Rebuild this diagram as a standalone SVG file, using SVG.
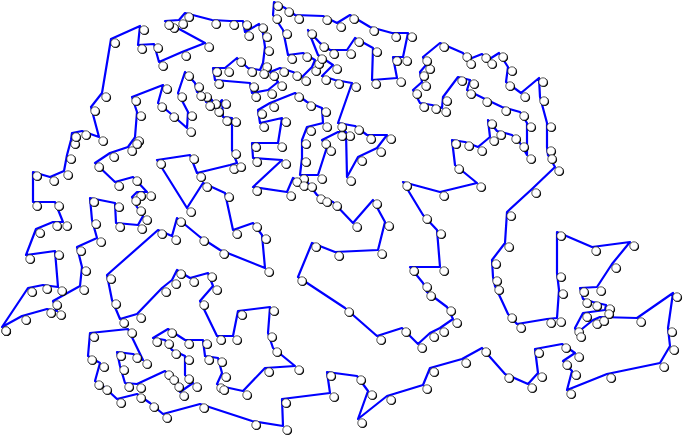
<svg xmlns="http://www.w3.org/2000/svg" width="684" height="436" viewBox="0 0 684 436">
<style>
.tour{fill:none;stroke:#0000ff;stroke-width:2.2;stroke-linejoin:round;marker-start:url(#city);marker-mid:url(#city);marker-end:url(#city)}
</style>
<defs>
<marker id="city" markerUnits="userSpaceOnUse" markerWidth="16" markerHeight="16" refX="0" refY="0" overflow="visible" orient="0">
<circle cx="4.7" cy="4.7" r="4.4" fill="#000"/>
<circle cx="4" cy="4" r="4.2" fill="#fff" stroke="#111" stroke-width="0.7"/>
</marker>
</defs>
<rect width="684" height="436" fill="#fff"/>
<g id="connectors">
<polygon class="tour" points="2,327 28,288 43,285 58,287 55,251 26,255 36,229 53,222 63,222 55,202 33,202 33,172 50,177 64,171 67,155 71,140 72,133 82,131 99,137 91,107 102,93 111,39 140,26 138,45 154,44 159,62 182,52 205,43 170,24 165,21 179,20 185,13 212,20 230,21 243,21 245,32 259,24 263,33 265,47 263,63 260,70 248,68 237,58 225,68 213,68 215,80 250,83 252,93 268,90 278,82 270,72 280,68 293,72 302,77 312,67 315,60 303,53 288,55 283,30 273,15 274,2 285,8 295,15 323,16 337,23 350,15 370,27 392,33 408,33 403,57 393,57 397,78 372,80 373,48 355,38 347,50 330,50 320,43 308,30 318,55 333,65 322,76 335,80 352,83 338,123 355,126 367,135 387,135 377,148 358,157 347,177 346,132 338,132 322,140 327,147 318,175 300,175 302,158 302,140 307,127 323,123 322,108 307,102 295,93 270,103 258,110 260,123 282,118 278,143 252,143 253,158 282,160 253,187 287,192 293,178 300,182 308,183 317,195 323,198 333,202 353,223 373,200 385,222 378,250 335,252 312,243 298,277 345,308 377,336 402,328 418,344 430,333 440,328 453,319 447,307 427,292 423,283 410,267 440,267 437,230 423,215 403,182 440,192 477,183 455,165 452,140 465,142 478,147 490,137 488,120 497,131 512,135 520,143 527,155 527,123 520,112 502,107 483,98 467,90 470,80 458,77 443,97 442,108 432,105 420,103 413,90 422,82 420,72 426,65 423,57 440,43 463,53 467,60 482,54 488,60 499,53 508,67 506,82 521,93 539,78 540,97 547,123 547,147 548,155 555,167 532,189 507,212 505,243 492,260 493,277 495,286 508,314 517,324 547,319 557,318 559,290 557,273 557,232 592,247 630,242 612,264 597,287 580,288 583,299 593,302 606,305 605,310 583,313 575,328 577,333 593,320 600,317 637,318 673,293 668,328 670,346 660,363 607,374 567,390 572,371 563,361 575,353 562,344 535,349 538,373 528,384 505,374 482,348 462,359 430,368 423,385 387,396 358,419 368,391 357,376 327,372 330,393 282,399 283,426 252,421 200,404 163,414 150,403 137,394 117,399 103,386 95,381 100,363 88,356 90,333 128,329 143,360 133,354 117,352 120,366 125,383 137,384 165,371 170,376 175,383 180,392 193,383 185,375 185,356 172,350 165,340 153,338 168,329 185,340 203,340 205,356 218,358 222,373 217,384 220,386 243,391 265,368 295,366 273,348 268,333 270,307 238,311 233,336 217,336 200,301 213,286 208,273 190,278 177,270 172,280 162,288 137,314 120,319 112,300 107,275 158,230 172,236 177,218 200,237 220,250 265,268 262,235 253,223 233,230 225,193 203,183 187,208 157,160 190,155 197,173 230,165 237,163 232,150 232,118 223,117 222,100 215,108 212,100 206,102 203,93 197,92 195,83 185,72 178,93 188,112 187,128 170,113 158,103 163,85 132,97 137,112 135,137 133,140 128,147 110,153 95,163 115,182 133,177 147,192 137,192 132,197 137,207 143,216 138,225 116,223 115,203 90,198 92,220 97,238 77,247 82,267 80,286 53,301 57,311 47,309 22,316"/>
</g>
</svg>
